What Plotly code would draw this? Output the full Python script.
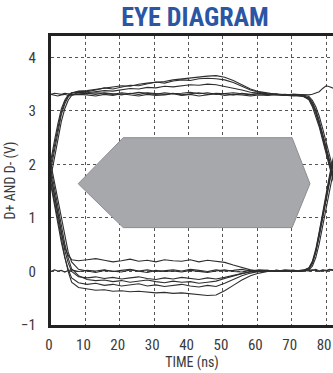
import plotly.graph_objects as go

# Sample times (ns) shared by every captured waveform
t_ns = [-2, -1, 0, 1, 2, 3, 4, 5, 6, 8,
        10.5, 13, 15.5, 18, 20.5, 23, 25.5, 28, 30.5, 33, 35.5, 38, 40.5,
        43, 45.5, 48, 50.5, 53, 55.5, 58, 60.5, 63, 65.5, 68, 70.5, 73,
        75, 76, 77, 78, 79, 80, 81, 82, 83, 84]

# High-level waveforms (V)
hi_1 = [1.25, 1.6, 1.92, 2.28, 2.62, 2.93, 3.13, 3.26, 3.33, 3.37,
        3.38, 3.40, 3.42, 3.44, 3.47, 3.46, 3.50, 3.52, 3.53, 3.55, 3.58, 3.60, 3.61,
        3.63, 3.65, 3.66, 3.63, 3.57, 3.49, 3.41, 3.36, 3.33, 3.31, 3.30, 3.29, 3.28,
        3.24, 3.14, 2.99, 2.78, 2.54, 2.29, 2.04, 1.79, 1.54, 1.30]
hi_2 = [1.35, 1.7, 2.0, 2.35, 2.68, 2.98, 3.17, 3.28, 3.34, 3.36,
        3.36, 3.39, 3.43, 3.41, 3.45, 3.48, 3.47, 3.50, 3.54, 3.52, 3.56, 3.58, 3.57,
        3.60, 3.61, 3.60, 3.58, 3.53, 3.46, 3.39, 3.35, 3.32, 3.31, 3.29, 3.30, 3.28,
        3.25, 3.16, 3.02, 2.82, 2.58, 2.33, 2.08, 1.83, 1.58, 1.33]
hi_3 = [1.1, 1.45, 1.78, 2.12, 2.48, 2.8, 3.04, 3.2, 3.29, 3.35,
        3.34, 3.36, 3.38, 3.37, 3.40, 3.42, 3.41, 3.44, 3.43, 3.46, 3.45, 3.47, 3.49,
        3.48, 3.50, 3.49, 3.46, 3.43, 3.39, 3.35, 3.33, 3.31, 3.30, 3.31, 3.29, 3.29,
        3.22, 3.11, 2.95, 2.74, 2.50, 2.25, 2.00, 1.75, 1.50, 1.26]
hi_4 = [3.31, 3.32, 3.31, 3.33, 3.32, 3.31, 3.33, 3.32, 3.31, 3.32,
        3.33, 3.31, 3.34, 3.32, 3.30, 3.33, 3.31, 3.34, 3.32, 3.31, 3.33, 3.30, 3.32,
        3.34, 3.31, 3.33, 3.32, 3.30, 3.33, 3.31, 3.32, 3.30, 3.31, 3.29, 3.31, 3.30,
        3.27, 3.20, 3.08, 2.90, 2.67, 2.43, 2.17, 1.92, 1.66, 1.42]
hi_5 = [1.4, 1.76, 2.08, 2.44, 2.76, 3.04, 3.2, 3.3, 3.34, 3.35,
        3.32, 3.34, 3.33, 3.31, 3.34, 3.32, 3.35, 3.33, 3.31, 3.34, 3.32, 3.33, 3.35,
        3.32, 3.34, 3.31, 3.33, 3.34, 3.32, 3.30, 3.33, 3.31, 3.32, 3.30, 3.31, 3.30,
        3.30, 3.31, 3.33, 3.36, 3.42, 3.47, 3.45, 3.42, 3.40, 3.41]
hi_6 = [3.30, 3.29, 3.31, 3.30, 3.28, 3.30, 3.31, 3.29, 3.30, 3.31,
        3.30, 3.28, 3.31, 3.29, 3.32, 3.30, 3.28, 3.31, 3.29, 3.30, 3.32, 3.29, 3.31,
        3.28, 3.30, 3.32, 3.29, 3.31, 3.30, 3.28, 3.30, 3.29, 3.31, 3.30, 3.28, 3.29,
        3.21, 3.08, 2.91, 2.70, 2.45, 2.20, 1.95, 1.70, 1.45, 1.21]

# Low-level waveforms (V)
lo_1 = [2.45, 2.1, 1.75, 1.4, 1.05, 0.72, 0.45, 0.30, 0.22, 0.20,
        0.22, 0.24, 0.21, 0.18, 0.20, 0.23, 0.19, 0.21, 0.18, 0.22, 0.20, 0.19, 0.22,
        0.18, 0.21, 0.19, 0.17, 0.12, 0.07, 0.03, 0.01, 0.02, 0.00, 0.01, 0.02, 0.01,
        0.06, 0.16, 0.37, 0.68, 1.03, 1.38, 1.73, 2.03, 2.33, 2.58]
lo_2 = [2.65, 2.32, 1.98, 1.64, 1.3, 0.95, 0.62, 0.36, 0.18, 0.04,
        0.01, -0.02, 0.02, 0.00, -0.01, 0.03, 0.01, -0.02, 0.02, 0.00, 0.01, -0.01, 0.02,
        0.00, -0.02, 0.01, 0.03, 0.00, -0.01, 0.02, 0.01, 0.00, 0.02, 0.01, 0.00, 0.02,
        0.03, 0.10, 0.26, 0.52, 0.85, 1.2, 1.55, 1.86, 2.16, 2.44]
lo_3 = [0.01, 0.02, 0.00, 0.03, 0.01, 0.02, -0.01, 0.02, 0.03, 0.00,
        0.02, 0.01, 0.03, 0.00, 0.02, 0.04, 0.01, 0.03, 0.00, 0.02, 0.03, 0.01, 0.04,
        0.02, 0.00, 0.03, 0.01, 0.02, 0.04, 0.01, 0.03, 0.02, 0.00, 0.03, 0.02, 0.01,
        0.03, 0.02, 0.04, 0.01, 0.03, 0.02, 0.04, 0.03, 0.02, 0.03]
lo_4 = [2.5, 2.15, 1.8, 1.44, 1.08, 0.72, 0.40, 0.16, 0.00, -0.10,
        -0.12, -0.10, -0.13, -0.11, -0.14, -0.12, -0.10, -0.13, -0.15, -0.12, -0.14, -0.11, -0.13,
        -0.15, -0.12, -0.14, -0.11, -0.07, -0.03, 0.00, 0.01, 0.00, 0.02, 0.01, 0.00, 0.01,
        0.05, 0.15, 0.36, 0.66, 1.01, 1.36, 1.71, 2.01, 2.31, 2.56]
lo_5 = [2.3, 1.94, 1.58, 1.22, 0.88, 0.55, 0.26, 0.04, -0.12, -0.21,
        -0.24, -0.22, -0.26, -0.24, -0.27, -0.25, -0.23, -0.27, -0.25, -0.28, -0.26, -0.24, -0.27,
        -0.29, -0.26, -0.28, -0.22, -0.15, -0.08, -0.03, 0.00, 0.01, 0.00, 0.01, 0.02, 0.00,
        0.07, 0.19, 0.42, 0.74, 1.1, 1.46, 1.8, 2.1, 2.4, 2.64]
lo_6 = [2.35, 2.0, 1.65, 1.3, 0.95, 0.6, 0.28, 0.00, -0.20, -0.30,
        -0.33, -0.35, -0.34, -0.37, -0.36, -0.38, -0.37, -0.39, -0.40, -0.39, -0.41, -0.40, -0.42,
        -0.43, -0.45, -0.44, -0.36, -0.26, -0.16, -0.08, -0.03, 0.00, 0.01, 0.00, 0.01, 0.02,
        0.01, 0.03, 0.02, 0.00, 0.02, 0.01, 0.03, 0.02, 0.01, 0.02]
lo_7 = [2.6, 2.25, 1.9, 1.55, 1.2, 0.85, 0.52, 0.25, 0.05, -0.08,
        -0.15, -0.17, -0.16, -0.19, -0.17, -0.20, -0.18, -0.16, -0.19, -0.21, -0.18, -0.20, -0.19,
        -0.22, -0.20, -0.18, -0.13, -0.08, -0.04, -0.01, 0.01, 0.00, 0.02, 0.00, 0.01, 0.02,
        0.06, 0.17, 0.38, 0.70, 1.05, 1.40, 1.75, 2.05, 2.35, 2.60]

waveforms = [hi_1, hi_2, hi_3, hi_4, hi_5, hi_6, lo_1, lo_2, lo_3, lo_4, lo_5, lo_6, lo_7]

# Eye mask outline (ns, V)
mask_t = [7.9, 21.0, 70.1, 75.3, 70.1, 21.0, 7.9]
mask_v = [1.64, 2.50, 2.50, 1.64, 0.82, 0.82, 1.64]

x_ticks = [0, 10, 20, 30, 40, 50, 60, 70, 80]
y_ticks = [-1, 0, 1, 2, 3, 4]

narrow = "Roboto Condensed, Open Sans Condensed, sans-serif"
ink = "#3a3a3a"

fig = go.Figure()

fig.add_trace(go.Scatter(
    x=mask_t, y=mask_v, mode="lines", fill="toself",
    fillcolor="#a7a8ab", line=dict(color="#8c8d90", width=1),
    hoverinfo="skip", showlegend=False,
))

for v in waveforms:
    fig.add_trace(go.Scatter(
        x=t_ns, y=v, mode="lines",
        line=dict(color="#2e2e2e", width=1.1),
        showlegend=False,
    ))

fig.update_layout(
    width=333, height=373,
    margin=dict(l=51, r=0, t=36, b=48),
    paper_bgcolor="white", plot_bgcolor="white",
    title=dict(
        text="<b>EYE DIAGRAM</b>",
        font=dict(family=narrow, size=26, color="#2b56a3"),
        x=195 / 333, xanchor="center", y=1 - 17 / 373, yanchor="middle",
    ),
    font=dict(family=narrow, color=ink),
)

fig.update_xaxes(
    range=[0, 82], tickvals=x_ticks,
    showgrid=True, gridcolor="#555555", griddash="dot", gridwidth=1,
    zeroline=False,
    showline=True, linecolor="#222222", linewidth=3, mirror=True,
    ticks="", ticklabelstandoff=4, ticklabelshift=-2, ticklabeloverflow="allow",
    tickfont=dict(family=narrow, size=15, color=ink),
    title=dict(text="TIME (ns)", font=dict(family=narrow, size=14, color=ink), standoff=4),
)
fig.update_yaxes(
    range=[-1, 4.4], tickvals=y_ticks,
    showgrid=True, gridcolor="#555555", griddash="dot", gridwidth=1,
    zeroline=False,
    showline=True, linecolor="#222222", linewidth=3, mirror=False,
    ticks="", ticklabelstandoff=9,
    tickfont=dict(family=narrow, size=15, color=ink),
    title=dict(text="D+ AND D- (V)", font=dict(family=narrow, size=14, color=ink), standoff=3),
)

fig.write_html("out.html")
